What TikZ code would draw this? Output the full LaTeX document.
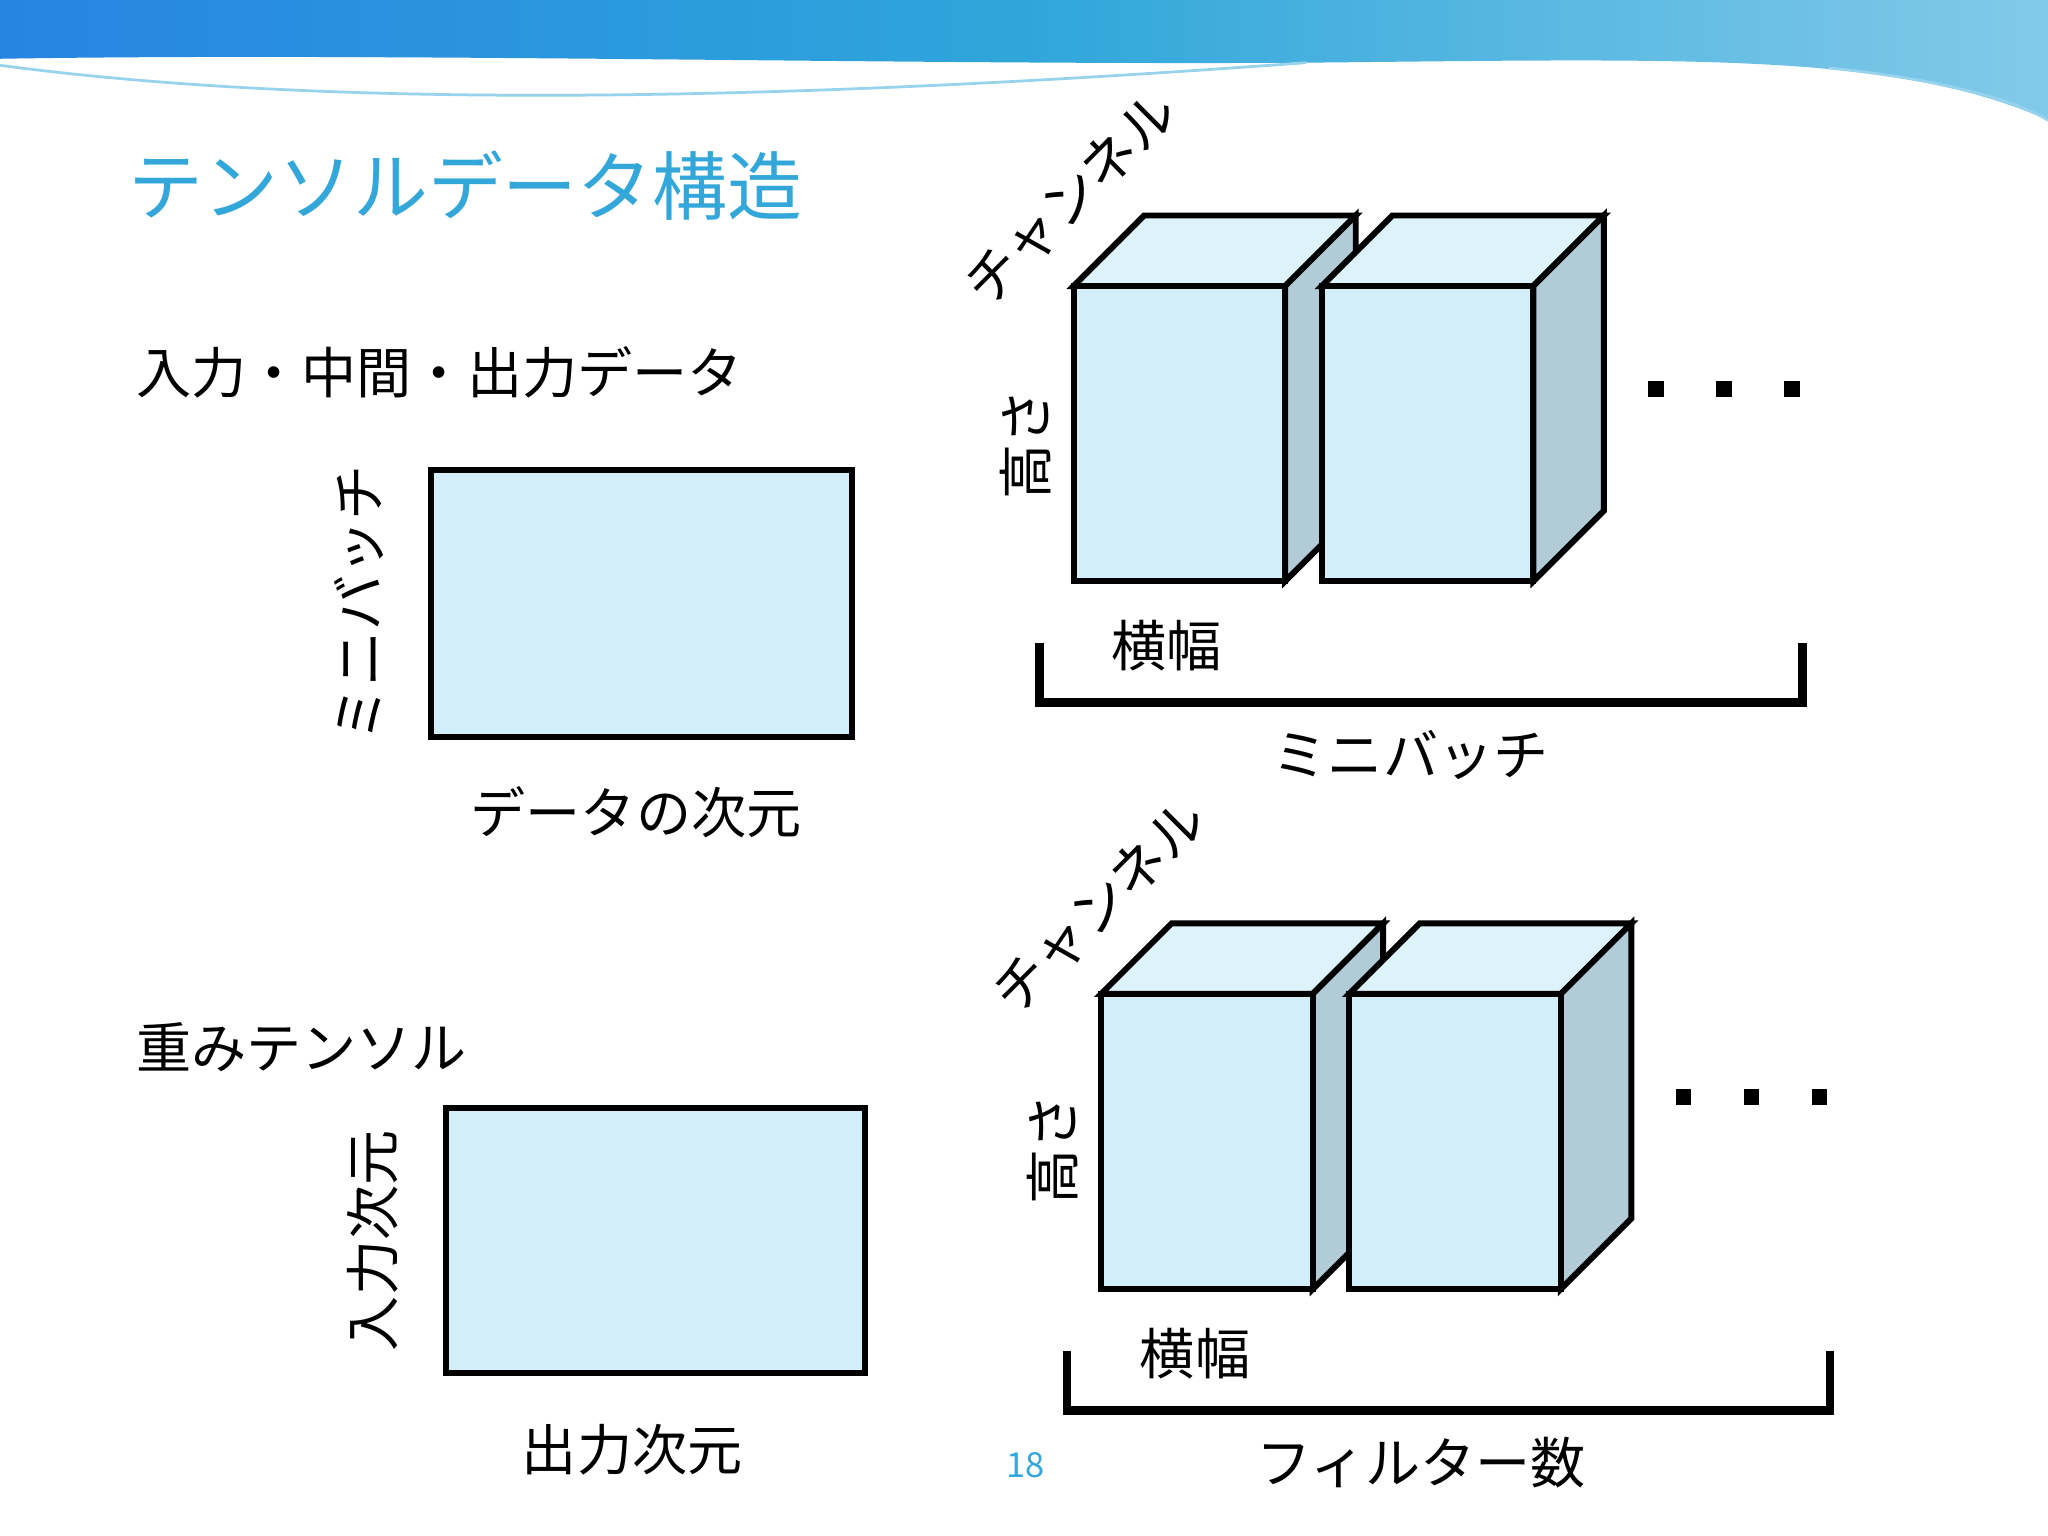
\documentclass[tikz,border=0pt]{standalone}
\usepackage{fontspec}
\setmainfont{Noto Sans CJK JP}
\definecolor{front}{HTML}{D2EEF9}
\definecolor{topc}{HTML}{DDF3FC}
\definecolor{sidec}{HTML}{B2CCD7}
\definecolor{ttl}{HTML}{33A7D9}
\definecolor{wave}{HTML}{2FA6DA}
\begin{document}
\begin{tikzpicture}[x=0.01cm,y=-0.01cm,
  face/.style={draw=black,line width=1.3pt,line join=miter},
  lbl/.style={font=\fontsize{12}{12}\selectfont},
  brk/.style={line width=1.9pt}]
\useasboundingbox (0,0) rectangle (1568,1176);
% top wave
\shade[left color=wave!80!blue, right color=wave!60, middle color=wave] (0,0) -- (1568,0) -- (1568,92) .. controls (1450,40) and (1300,45) .. (1000,48) .. controls (700,50) and (300,40) .. (0,45) -- cycle;
\draw[wave!50,line width=0.6pt] (0,50) .. controls (300,90) and (700,70) .. (1000,48);
\draw[wave!50,line width=0.6pt] (1400,52) .. controls (1480,60) and (1540,75) .. (1568,92);
% title
\node[anchor=west,text=ttl,font=\fontsize{16.3}{16.3}\selectfont] (title) at (86,142) {テンソルデータ構造};
% left section
\node[anchor=west,lbl] (h1) at (92,285) {入力・中間・出力データ};
\node[face,fill=front,minimum width=3.22cm,minimum height=2.04cm,inner sep=0] (r1) at (491,462) {};
\node[lbl,rotate=90] (mb1) at (275,462) {ミニバッチ};
\node[lbl] (dd) at (487,622) {データの次元};
\node[anchor=west,lbl] (h2) at (92,802) {重みテンソル};
\node[face,fill=front,minimum width=3.21cm,minimum height=2.03cm,inner sep=0] (r2) at (502,950) {};
\node[lbl,rotate=90] (in) at (285,950) {入力次元};
\node[lbl] (out) at (484,1110) {出力次元};
\node[text=ttl,font=\fontsize{7.5}{7.5}\selectfont] (pg) at (785,1122) {18};
% cubes
\newcommand{\mycube}[2]{%
 \begin{scope}[shift={(#1,#2)}]
 \filldraw[face,fill=topc] (0,0) -- (54,-54) -- (216,-54) -- (162,0) -- cycle;
 \filldraw[face,fill=sidec] (162,0) -- (216,-54) -- (216,172) -- (162,226) -- cycle;
 \filldraw[face,fill=front] (0,0) rectangle (162,226);
 \end{scope}}
\newcommand{\mygroup}[2]{%
 \begin{scope}[shift={(#1,#2)}]
 \mycube{822}{219}
 \mycube{1012}{219}
 \foreach \x in {1268,1320,1372} \fill (\x-6,292) rectangle (\x+6,304);
 \draw[brk] (796,492) -- (796,538) -- (1380,538) -- (1380,492);
 \end{scope}}
\mygroup{0}{0}
\mygroup{21}{542}
\node[lbl] (w1) at (893,494) {横幅};
\node[lbl] (b1) at (1080,578) {ミニバッチ};
\node[lbl,rotate=90] (hh1) at (785,340) {高さ};
\node[lbl,rotate=45] (c1) at (820,152) {チャンネル};
\node[lbl] (w2) at (915,1036) {横幅};
\node[lbl] (b2) at (1088,1120) {フィルター数};
\node[lbl,rotate=90] (hh2) at (806,880) {高さ};
\node[lbl,rotate=45] (c2) at (842,694) {チャンネル};
\end{tikzpicture}
\end{document}
